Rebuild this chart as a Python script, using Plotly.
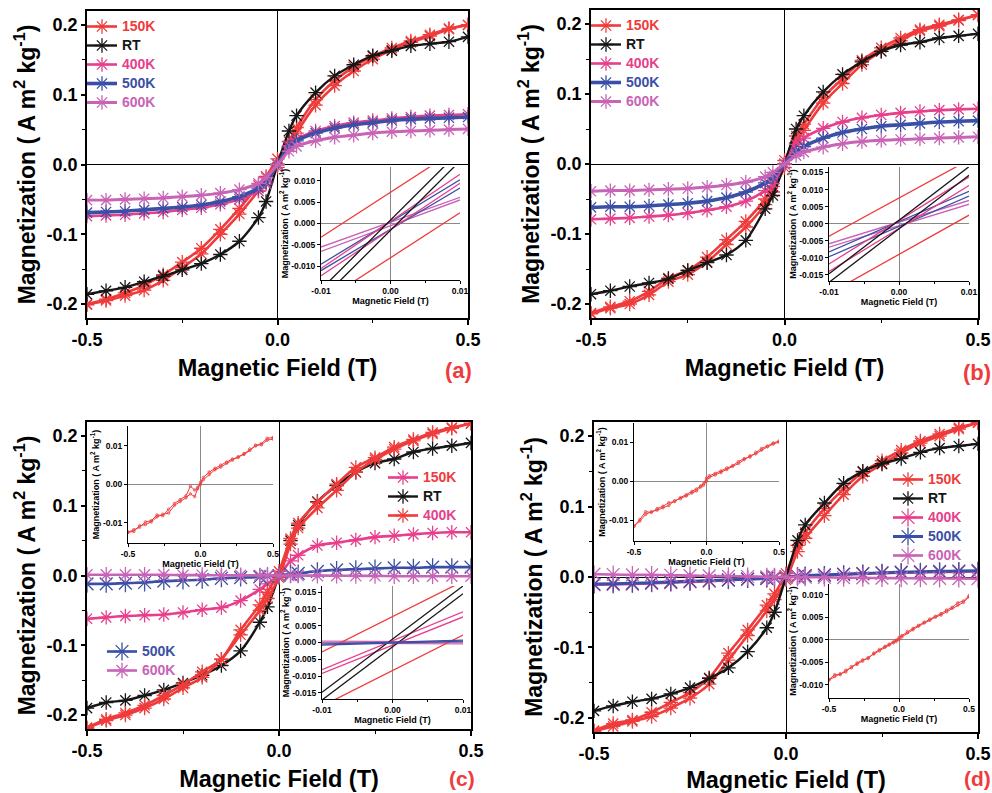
import plotly.graph_objects as go

W, H = 992, 793
FONT = "Liberation Sans"
RED = "#ef3b3b"; BLACK = "#161616"; PINK = "#e63f8b"; BLUE = "#3b4fa6"; ORCHID = "#c864b6"

# ---------------- data: main loops (field in T, magnetization in A m2 kg-1) ----------------
H_MAIN = [-0.5, -0.45, -0.4, -0.35, -0.3, -0.25, -0.2, -0.15, -0.1, -0.05, -0.03, 0.0,
          0.03, 0.05, 0.1, 0.15, 0.2, 0.25, 0.3, 0.35, 0.4, 0.45, 0.5]

A_150K_UP = [-0.201, -0.195, -0.188, -0.180, -0.166, -0.148, -0.128, -0.100, -0.071, -0.038, -0.025, -0.004,
             0.025, 0.045, 0.085, 0.113, 0.134, 0.151, 0.164, 0.175, 0.184, 0.194, 0.200]
A_150K_DN = [-0.200, -0.193, -0.184, -0.173, -0.158, -0.140, -0.120, -0.093, -0.063, -0.030, -0.017, 0.008,
             0.033, 0.053, 0.093, 0.120, 0.140, 0.155, 0.167, 0.177, 0.186, 0.195, 0.200]
A_RT = [-0.186, -0.181, -0.176, -0.168, -0.160, -0.151, -0.142, -0.129, -0.110, -0.076, -0.053, 0.0,
        0.048, 0.070, 0.103, 0.127, 0.143, 0.156, 0.163, 0.170, 0.173, 0.176, 0.183]
A_400K = [-0.074, -0.073, -0.072, -0.070, -0.068, -0.065, -0.062, -0.057, -0.050, -0.038, -0.028, 0.0,
          0.027, 0.036, 0.048, 0.055, 0.060, 0.063, 0.066, 0.068, 0.070, 0.071, 0.072]
A_500K = [-0.069, -0.068, -0.067, -0.065, -0.063, -0.061, -0.058, -0.053, -0.046, -0.034, -0.025, 0.0,
          0.025, 0.034, 0.045, 0.052, 0.057, 0.060, 0.063, 0.065, 0.066, 0.067, 0.068]
A_600K = [-0.051, -0.051, -0.050, -0.049, -0.048, -0.046, -0.044, -0.041, -0.036, -0.027, -0.019, 0.0,
          0.019, 0.026, 0.034, 0.039, 0.042, 0.045, 0.047, 0.048, 0.049, 0.050, 0.051]

B_150K_UP = [-0.214, -0.206, -0.200, -0.187, -0.168, -0.158, -0.140, -0.115, -0.090, -0.058, -0.040, -0.005,
             0.030, 0.048, 0.087, 0.115, 0.142, 0.161, 0.176, 0.190, 0.197, 0.205, 0.213]
B_150K_DN = [-0.213, -0.204, -0.196, -0.182, -0.163, -0.152, -0.133, -0.108, -0.082, -0.050, -0.032, 0.005,
             0.040, 0.057, 0.095, 0.122, 0.148, 0.166, 0.180, 0.192, 0.199, 0.206, 0.213]
B_RT = [-0.186, -0.181, -0.175, -0.170, -0.164, -0.152, -0.141, -0.130, -0.109, -0.064, -0.045, 0.0,
        0.050, 0.069, 0.103, 0.128, 0.146, 0.161, 0.170, 0.174, 0.180, 0.183, 0.186]
B_400K = [-0.079, -0.078, -0.077, -0.075, -0.073, -0.070, -0.066, -0.061, -0.053, -0.038, -0.028, 0.0,
          0.028, 0.037, 0.051, 0.060, 0.066, 0.070, 0.073, 0.075, 0.077, 0.078, 0.079]
B_500K = [-0.062, -0.061, -0.061, -0.060, -0.058, -0.056, -0.053, -0.048, -0.040, -0.027, -0.019, 0.0,
          0.018, 0.025, 0.037, 0.045, 0.050, 0.054, 0.056, 0.058, 0.060, 0.061, 0.062]
B_600K = [-0.039, -0.038, -0.038, -0.037, -0.036, -0.035, -0.033, -0.030, -0.026, -0.018, -0.012, 0.0,
          0.012, 0.017, 0.024, 0.029, 0.032, 0.034, 0.035, 0.036, 0.037, 0.038, 0.039]

C_RED_UP = [-0.219, -0.208, -0.200, -0.190, -0.177, -0.161, -0.146, -0.120, -0.085, -0.050, -0.033, -0.003,
            0.045, 0.068, 0.097, 0.122, 0.148, 0.166, 0.181, 0.193, 0.203, 0.211, 0.218]
C_RED_DN = [-0.218, -0.206, -0.197, -0.186, -0.172, -0.156, -0.138, -0.120, -0.078, -0.042, -0.024, 0.006,
            0.053, 0.075, 0.105, 0.131, 0.155, 0.169, 0.184, 0.195, 0.205, 0.212, 0.218]
C_RT = [-0.190, -0.182, -0.179, -0.172, -0.164, -0.154, -0.143, -0.129, -0.108, -0.067, -0.045, 0.0,
        0.050, 0.072, 0.106, 0.129, 0.148, 0.161, 0.167, 0.177, 0.182, 0.186, 0.190]
C_PINK = [-0.062, -0.060, -0.058, -0.057, -0.056, -0.053, -0.049, -0.046, -0.036, -0.020, -0.012, 0.0,
          0.021, 0.029, 0.043, 0.047, 0.051, 0.055, 0.057, 0.059, 0.061, 0.062, 0.062]
C_500K = [-0.012, -0.012, -0.011, -0.010, -0.008, -0.007, -0.006, -0.004, -0.003, -0.002, -0.001, 0.0,
          0.002, 0.003, 0.006, 0.008, 0.009, 0.010, 0.011, 0.011, 0.012, 0.012, 0.012]
C_600K = [0.001, 0.001, 0.001, 0.001, 0.001, 0.0005, 0.0005, 0.0003, 0.0002, 0.0001, 0.0, 0.0,
          0.0, -0.0001, -0.0002, -0.0003, -0.0005, -0.0005, -0.001, -0.001, -0.001, -0.001, -0.001]

D_RED_UP = [-0.219, -0.212, -0.205, -0.198, -0.186, -0.172, -0.152, -0.118, -0.083, -0.048, -0.032, -0.004,
            0.036, 0.055, 0.087, 0.117, 0.143, 0.160, 0.176, 0.190, 0.200, 0.210, 0.219]
D_RED_DN = [-0.218, -0.208, -0.203, -0.192, -0.178, -0.164, -0.143, -0.108, -0.075, -0.040, -0.024, 0.005,
            0.045, 0.063, 0.097, 0.125, 0.149, 0.165, 0.180, 0.193, 0.203, 0.212, 0.219]
D_RT = [-0.190, -0.183, -0.177, -0.173, -0.166, -0.157, -0.144, -0.129, -0.106, -0.072, -0.050, 0.0,
        0.052, 0.074, 0.105, 0.133, 0.150, 0.161, 0.168, 0.177, 0.183, 0.186, 0.189]
D_400K = [-0.011, -0.0105, -0.010, -0.009, -0.008, -0.007, -0.006, -0.0045, -0.003, -0.002, -0.001, 0.0,
          0.001, 0.0015, 0.0025, 0.0035, 0.0045, 0.0055, 0.006, 0.0065, 0.007, 0.0075, 0.008]
D_500K = [-0.010, -0.0095, -0.009, -0.008, -0.007, -0.006, -0.005, -0.004, -0.003, -0.002, -0.001, 0.0,
          0.001, 0.002, 0.003, 0.004, 0.005, 0.006, 0.007, 0.0075, 0.008, 0.0085, 0.009]
D_600K = [0.004, 0.0035, 0.003, 0.003, 0.0025, 0.002, 0.0015, 0.001, 0.0007, 0.0003, 0.0002, 0.0,
          -0.0002, -0.0003, -0.0006, -0.0009, -0.0012, -0.0015, -0.0017, -0.0019, -0.002, -0.0022, -0.0024]

# ---------------- data: low-field insets (branch end values at -0.01 T and +0.01 T) ----------------
H_LOW = [-0.01, 0.01]
AI_150K = [[-0.0032, 0.0178], [-0.0185, 0.0025]]
AI_RT = [[-0.0154, 0.0170], [-0.0178, 0.0146]]
AI_400K = [[-0.0105, 0.0115], [-0.0122, 0.0094]]
AI_500K = [[-0.0095, 0.0102], [-0.0110, 0.0083]]
AI_600K = [[-0.0055, 0.0061], [-0.0065, 0.0055]]

BI_150K = [[-0.0037, 0.0187], [-0.0205, 0.0025]]
BI_RT = [[-0.0147, 0.0167], [-0.0172, 0.0142]]
BI_400K = [[-0.0118, 0.0137], [-0.0140, 0.0112]]
BI_500K = [[-0.0083, 0.0095], [-0.0097, 0.0081]]
BI_600K = [[-0.0059, 0.0068], [-0.0069, 0.0057]]

CI_150K = [[-0.0028, 0.0182], [-0.0189, 0.0022]]
CI_RT = [[-0.0148, 0.0168], [-0.0171, 0.0145]]
CI_400K = [[-0.0081, 0.0091], [-0.0092, 0.0076]]
CI_500K = [[-0.0008, 0.0004], [-0.0005, 0.0007]]
CI_600K = [[0.0004, 0.0002], [-0.0002, -0.0004]]

# ---------------- data: full-field insets (noisy red loops) ----------------
H_SMALL = [-0.5, -0.46, -0.42, -0.38, -0.34, -0.3, -0.26, -0.22, -0.18, -0.14, -0.1, -0.07, -0.04, -0.02, 0.0,
           0.02, 0.06, 0.1, 0.14, 0.18, 0.22, 0.26, 0.3, 0.34, 0.38, 0.42, 0.46, 0.5]
CS_UP = [-0.0125, -0.0123, -0.0108, -0.0105, -0.0098, -0.0085, -0.0078, -0.0075, -0.0055, -0.0045, -0.0035,
         -0.0025, -0.0032, -0.0012, 0.0, 0.0012, 0.0025, 0.0038, 0.0045, 0.0055, 0.0063, 0.0072, 0.0078,
         0.0088, 0.0102, 0.0103, 0.0115, 0.0118]
CS_DN = [-0.0125, -0.0118, -0.0112, -0.0098, -0.0095, -0.0080, -0.0082, -0.0065, -0.0050, -0.0040, -0.0030,
         -0.0005, -0.0015, -0.0008, 0.0005, 0.0018, 0.0032, 0.0042, 0.0050, 0.0058, 0.0066, 0.0070, 0.0080,
         0.0092, 0.0100, 0.0106, 0.0120, 0.0122]
DS1_UP = [-0.0115, -0.0102, -0.0085, -0.0078, -0.0074, -0.0068, -0.0062, -0.0050, -0.0045, -0.0038, -0.0030,
          -0.0025, -0.0015, -0.0010, 0.0, 0.0010, 0.0016, 0.0022, 0.0030, 0.0038, 0.0045, 0.0055, 0.0065,
          0.0070, 0.0080, 0.0088, 0.0095, 0.0100]
DS1_DN = [-0.0115, -0.0098, -0.0078, -0.0080, -0.0070, -0.0064, -0.0055, -0.0052, -0.0042, -0.0035, -0.0026,
          -0.0020, -0.0012, -0.0006, 0.0008, 0.0014, 0.0020, 0.0026, 0.0034, 0.0040, 0.0050, 0.0058, 0.0062,
          0.0074, 0.0084, 0.0090, 0.0098, 0.0103]
DS2_UP = [-0.0090, -0.0082, -0.0076, -0.0072, -0.0060, -0.0055, -0.0048, -0.0040, -0.0032, -0.0025, -0.0017,
          -0.0012, -0.0007, -0.0004, 0.0, 0.0006, 0.0015, 0.0022, 0.0030, 0.0037, 0.0043, 0.0050, 0.0055,
          0.0062, 0.0070, 0.0077, 0.0083, 0.0095]
DS2_DN = [-0.0089, -0.0078, -0.0078, -0.0068, -0.0063, -0.0052, -0.0045, -0.0042, -0.0030, -0.0022, -0.0015,
          -0.0010, -0.0005, -0.0001, 0.0005, 0.0009, 0.0018, 0.0025, 0.0032, 0.0039, 0.0046, 0.0052, 0.0058,
          0.0066, 0.0072, 0.0082, 0.0086, 0.0098]

# ---------------- ticks ----------------
MAIN_XTICKS = [-0.5, 0.0, 0.5]; MAIN_XTEXT = ["-0.5", "0.0", "0.5"]; MAIN_XMINOR = [-0.25, 0.25]
MAIN_YTICKS = [-0.2, -0.1, 0.0, 0.1, 0.2]; MAIN_YTEXT = ["-0.2", "-0.1", "0.0", "0.1", "0.2"]
MAIN_YMINOR = [-0.15, -0.05, 0.05, 0.15]
LOW_XTICKS = [-0.01, 0.0, 0.01]; LOW_XTEXT = ["-0.01", "0.00", "0.01"]; LOW_XMINOR = [-0.005, 0.005]
LOW_Y10 = [-0.01, -0.005, 0.0, 0.005, 0.01]; LOW_Y10_TEXT = ["-0.010", "-0.005", "0.000", "0.005", "0.010"]
LOW_Y15 = [-0.015, -0.01, -0.005, 0.0, 0.005, 0.01, 0.015]
LOW_Y15_TEXT = ["-0.015", "-0.010", "-0.005", "0.000", "0.005", "0.010", "0.015"]
SM_XTICKS = [-0.5, 0.0, 0.5]; SM_XTEXT = ["-0.5", "0.0", "0.5"]; SM_XMINOR = [-0.25, 0.25]
SM_Y1 = [-0.01, 0.0, 0.01]; SM_Y1_TEXT = ["-0.01", "0.00", "0.01"]

YTITLE = "Magnetization ( A m<sup>2</sup> kg<sup>-1</sup>)"
XTITLE = "Magnetic Field (T)"


def fx(l, r):
    return [l / W, r / W]


def fy(t, b):
    return [1 - b / H, 1 - t / H]


def bold(size, color="black"):
    return dict(family=FONT, size=size, color=color, weight="bold")


fig = go.Figure()
layout = dict(width=W, height=H, margin=dict(l=0, r=0, t=0, b=0),
              paper_bgcolor="white", plot_bgcolor="rgba(0,0,0,0)", showlegend=True)


def main_axes(n, xd, yd):
    layout["xaxis" + ("" if n == 1 else str(n))] = dict(
        domain=xd, anchor="y" + ("" if n == 1 else str(n)), range=[-0.5, 0.5],
        tickmode="array", tickvals=MAIN_XTICKS, ticktext=MAIN_XTEXT,
        ticks="outside", ticklen=5, tickwidth=1.5, tickcolor="black",
        minor=dict(tickmode="array", tickvals=MAIN_XMINOR, ticks="outside", ticklen=3, tickwidth=1.2, tickcolor="black"),
        showline=True, mirror=True, linecolor="black", linewidth=1.5, showgrid=False,
        zeroline=True, zerolinecolor="black", zerolinewidth=1.2,
        tickfont=bold(18), title=dict(text=XTITLE, font=bold(23.5), standoff=10), automargin=False)
    layout["yaxis" + ("" if n == 1 else str(n))] = dict(
        domain=yd, anchor="x" + ("" if n == 1 else str(n)), range=[-0.22, 0.22],
        tickmode="array", tickvals=MAIN_YTICKS, ticktext=MAIN_YTEXT,
        ticks="outside", ticklen=4, tickwidth=1.5, tickcolor="black",
        minor=dict(tickmode="array", tickvals=MAIN_YMINOR, ticks="outside", ticklen=3, tickwidth=1.2, tickcolor="black"),
        showline=True, mirror=True, linecolor="black", linewidth=1.5, showgrid=False,
        zeroline=True, zerolinecolor="black", zerolinewidth=1.2,
        tickfont=bold(18), title=dict(text=YTITLE, font=bold(23), standoff=5), automargin=False)


def inset_axes(n, xd, yd, xr, yr, xt, xtt, xm, yt, ytt):
    layout["xaxis%d" % n] = dict(
        domain=xd, anchor="y%d" % n, range=xr, tickmode="array", tickvals=xt, ticktext=xtt,
        ticks="outside", ticklen=3, tickwidth=1, tickcolor="black",
        minor=dict(tickmode="array", tickvals=xm, ticks="outside", ticklen=2, tickwidth=1, tickcolor="black"),
        showline=True, mirror=False, linecolor="black", linewidth=1, showgrid=False,
        zeroline=True, zerolinecolor="#8a8a8a", zerolinewidth=1,
        tickfont=bold(8.5), title=dict(text=XTITLE, font=bold(9), standoff=2), automargin=False)
    layout["yaxis%d" % n] = dict(
        domain=yd, anchor="x%d" % n, range=yr, tickmode="array", tickvals=yt, ticktext=ytt,
        ticks="outside", ticklen=3, tickwidth=1, tickcolor="black",
        showline=True, mirror=False, linecolor="black", linewidth=1, showgrid=False,
        zeroline=True, zerolinecolor="#8a8a8a", zerolinewidth=1,
        tickfont=bold(8.5), title=dict(text=YTITLE, font=bold(9), standoff=1), automargin=False)


main_axes(1, fx(87, 468), fy(11, 318))
main_axes(2, fx(591, 978), fy(10, 318))
main_axes(3, fx(87, 471), fy(422, 729))
main_axes(4, fx(594, 978), fy(422, 732))
inset_axes(5, fx(321, 460), fy(167, 280), [-0.01, 0.01], [-0.0132, 0.0132], LOW_XTICKS, LOW_XTEXT, LOW_XMINOR, LOW_Y10, LOW_Y10_TEXT)
inset_axes(6, fx(829, 969), fy(167, 281), [-0.01, 0.01], [-0.0168, 0.0166], LOW_XTICKS, LOW_XTEXT, LOW_XMINOR, LOW_Y15, LOW_Y15_TEXT)
inset_axes(7, fx(128, 273), fy(426, 543), [-0.5, 0.5], [-0.0153, 0.0152], SM_XTICKS, SM_XTEXT, SM_XMINOR, SM_Y1, SM_Y1_TEXT)
inset_axes(8, fx(322, 463), fy(586, 699), [-0.01, 0.01], [-0.0168, 0.0168], LOW_XTICKS, LOW_XTEXT, LOW_XMINOR, LOW_Y15, LOW_Y15_TEXT)
inset_axes(9, fx(634, 779), fy(423, 541), [-0.5, 0.5], [-0.0153, 0.0149], SM_XTICKS, SM_XTEXT, SM_XMINOR, SM_Y1, SM_Y1_TEXT)
inset_axes(10, fx(829, 969), fy(584, 698), [-0.5, 0.5], [-0.013, 0.0124], SM_XTICKS, SM_XTEXT, SM_XMINOR, LOW_Y10, LOW_Y10_TEXT)


def lbl(text, color):
    return '<span style="color:%s;font-size:14px">%s</span>' % (color, text)


def loop(n, ys, name, color, lw, ms, legend, rank, textcolor=None, show=True):
    ax = "" if n == 1 else str(n)
    fig.add_trace(go.Scatter(
        x=H_MAIN, y=ys, mode="lines+markers", name=lbl(name, textcolor or color),
        line=dict(color=color, width=lw, shape="spline", smoothing=0.8),
        marker=dict(symbol="asterisk-open", size=ms, color=color, line=dict(color=color, width=1.3)),
        xaxis="x" + ax, yaxis="y" + ax, legend=legend, legendrank=rank, showlegend=show, hoverinfo="skip"))


# panel (a)
loop(1, A_150K_UP, "150K", RED, 2.6, 12, "legend", 1)
loop(1, A_150K_DN, "150K", RED, 2.6, 12, "legend", 1, show=False)
loop(1, A_RT, "RT", BLACK, 2.4, 12, "legend", 2)
loop(1, A_400K, "400K", PINK, 2.6, 12, "legend", 3)
loop(1, A_500K, "500K", BLUE, 3.6, 12, "legend", 4)
loop(1, A_600K, "600K", ORCHID, 3.0, 12, "legend", 5)
# panel (b)
loop(2, B_150K_UP, "150K", RED, 2.6, 12, "legend2", 1)
loop(2, B_150K_DN, "150K", RED, 2.6, 12, "legend2", 1, show=False)
loop(2, B_RT, "RT", BLACK, 2.4, 12, "legend2", 2)
loop(2, B_400K, "400K", PINK, 2.6, 12, "legend2", 3)
loop(2, B_500K, "500K", BLUE, 3.6, 12, "legend2", 4)
loop(2, B_600K, "600K", ORCHID, 3.0, 12, "legend2", 5)
# panel (c)
loop(3, C_PINK, "150K", PINK, 2.6, 12, "legend3", 1, textcolor=RED)
loop(3, C_RT, "RT", BLACK, 2.4, 12, "legend3", 2)
loop(3, C_RED_UP, "400K", RED, 2.6, 12, "legend3", 3, textcolor=PINK)
loop(3, C_RED_DN, "400K", RED, 2.6, 12, "legend3", 3, show=False)
loop(3, C_500K, "500K", BLUE, 2.6, 15, "legend4", 1)
loop(3, C_600K, "600K", ORCHID, 2.6, 13, "legend4", 2)
# panel (d)
loop(4, D_RED_UP, "150K", RED, 2.6, 12, "legend5", 1)
loop(4, D_RED_DN, "150K", RED, 2.6, 12, "legend5", 1, show=False)
loop(4, D_RT, "RT", BLACK, 2.4, 12, "legend5", 2)
loop(4, D_400K, "400K", PINK, 2.6, 15, "legend5", 3)
loop(4, D_500K, "500K", BLUE, 3.0, 15, "legend5", 4)
loop(4, D_600K, "600K", ORCHID, 2.6, 15, "legend5", 5)


def low_lines(n, series):
    for branches, color in series:
        for b in branches:
            fig.add_trace(go.Scatter(x=H_LOW, y=b, mode="lines", line=dict(color=color, width=1.3),
                                     xaxis="x%d" % n, yaxis="y%d" % n, showlegend=False, hoverinfo="skip"))


low_lines(5, [(AI_600K, ORCHID), (AI_500K, BLUE), (AI_400K, PINK), (AI_RT, BLACK), (AI_150K, RED)])
low_lines(6, [(BI_600K, ORCHID), (BI_500K, BLUE), (BI_400K, PINK), (BI_RT, BLACK), (BI_150K, RED)])
low_lines(8, [(CI_600K, ORCHID), (CI_400K, PINK), (CI_RT, BLACK), (CI_150K, RED), (CI_500K, BLUE)])


def small_loop(n, up, dn):
    for ys in (up, dn):
        fig.add_trace(go.Scatter(x=H_SMALL, y=ys, mode="lines+markers",
                                 line=dict(color=RED, width=1),
                                 marker=dict(symbol="circle-open", size=2.5, color=RED, line=dict(width=0.8, color=RED)),
                                 xaxis="x%d" % n, yaxis="y%d" % n, showlegend=False, hoverinfo="skip"))


small_loop(7, CS_UP, CS_DN)
small_loop(9, DS1_UP, DS1_DN)
small_loop(10, DS2_UP, DS2_DN)


def legend_at(x, y):
    return dict(x=x / W, y=1 - y / H, xanchor="left", yanchor="top", bgcolor="rgba(0,0,0,0)",
                borderwidth=0, font=bold(12), itemwidth=30, tracegroupgap=0, traceorder="normal")


layout["legend"] = legend_at(82, 12)
layout["legend2"] = legend_at(586, 11)
layout["legend3"] = legend_at(383, 463)
layout["legend4"] = legend_at(102, 637)
layout["legend5"] = legend_at(888, 465)


def panel_label(text, x, y, size=22):
    return dict(text=text, x=x / W, y=1 - y / H, xref="paper", yref="paper", xanchor="center",
                yanchor="middle", showarrow=False, font=bold(size, RED))


layout["annotations"] = [
    panel_label("(a)", 458, 370),
    panel_label("(b)", 977, 373),
    panel_label("(c)", 462, 778, 21),
    panel_label("(d)", 977, 778, 21),
]

fig.update_layout(**layout)
fig.write_html("out.html", config={"displayModeBar": False},
               post_script="document.body.style.margin='0px';document.body.style.overflow='hidden';")
